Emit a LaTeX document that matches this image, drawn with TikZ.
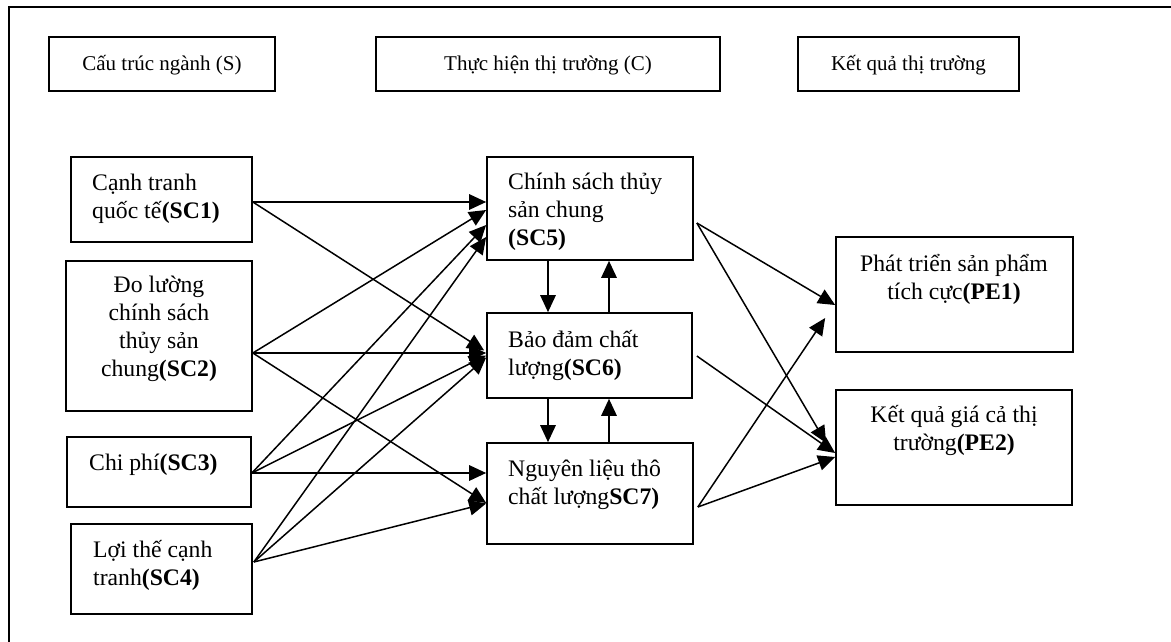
\documentclass[tikz,border=0pt]{standalone}
\usepackage{fontspec}
\setmainfont{Liberation Serif}
\usetikzlibrary{arrows.meta,calc}
\begin{document}
\begin{tikzpicture}[x=1pt,y=-1pt,
  box/.style={draw,line width=1.7pt,inner sep=0pt},
  bodytxt/.style={inner sep=0pt,font=\fontsize{23.7}{28}\selectfont},
  headtxt/.style={inner sep=0pt,font=\fontsize{21}{26}\selectfont},
  arr/.style={line width=1.5pt,-{Triangle[length=17pt,width=15.5pt]}}]
\clip (0,0) rectangle (1171,642);
% outer frame (runs off the right and bottom edges)
\draw[line width=2pt] (8.5,7.5) rectangle (1200,700);
% header boxes
\node[box,minimum width=226pt,minimum height=54pt] (h1) at (162,64) {};
\node[box,minimum width=344pt,minimum height=54pt] (h2) at (548,64) {};
\node[box,minimum width=221pt,minimum height=54pt] (h3) at (908.5,64) {};
\node[headtxt,anchor=base] (h1t) at ($(h1.center)+(0,7)$) {Cấu trúc ngành (S)};
\node[headtxt,anchor=base] (h2t) at ($(h2.center)+(0,7)$) {Thực hiện thị trường (C)};
\node[headtxt,anchor=base] (h3t) at ($(h3.center)+(0,7)$) {Kết quả thị trường};
% left column
\node[box,minimum width=181pt,minimum height=85pt] (sc1) at (161.5,199.5) {};
\node[box,minimum width=186pt,minimum height=150pt] (sc2) at (159,336) {};
\node[box,minimum width=184pt,minimum height=70pt] (sc3) at (159,472) {};
\node[box,minimum width=181pt,minimum height=90pt] (sc4) at (161.5,569) {};
% middle column
\node[box,minimum width=206pt,minimum height=103pt] (sc5) at (590,208.5) {};
\node[box,minimum width=205pt,minimum height=85pt] (sc6) at (589.5,355.5) {};
\node[box,minimum width=206pt,minimum height=101pt] (sc7) at (590,493.5) {};
% right column
\node[box,minimum width=237pt,minimum height=115pt] (pe1) at (954.5,294.5) {};
\node[box,minimum width=236pt,minimum height=115pt] (pe2) at (954,447.5) {};
% texts (base anchor = baseline of the last line)
\node[bodytxt,anchor=base west,align=left] (sc1t) at (92,218) {Cạnh tranh\\quốc tế\textbf{(SC1)}};
\node[bodytxt,anchor=base,align=center] (sc2t) at (159,376) {Đo lường\\chính sách\\thủy sản\\chung\textbf{(SC2)}};
\node[bodytxt,anchor=base west,align=left] (sc3t) at (89,470) {Chi phí\textbf{(SC3)}};
\node[bodytxt,anchor=base west,align=left] (sc4t) at (93,585) {Lợi thế cạnh\\tranh\textbf{(SC4)}};
\node[bodytxt,anchor=base west,align=left] (sc5t) at (508,245) {Chính sách thủy\\sản chung\\\textbf{(SC5)}};
\node[bodytxt,anchor=base west,align=left] (sc6t) at (508,375) {Bảo đảm chất\\lượng\textbf{(SC6)}};
\node[bodytxt,anchor=base west,align=left] (sc7t) at (508,504) {Nguyên liệu thô\\chất lượng\textbf{SC7)}};
\node[bodytxt,anchor=base,align=center] (pe1t) at (954,299) {Phát triển sản phẩm\\tích cực\textbf{(PE1)}};
\node[bodytxt,anchor=base,align=center] (pe2t) at (954,450) {Kết quả giá cả thị\\trường\textbf{(PE2)}};
% connectors from S to C
\draw[arr] ($(sc1.east)+(0,2.5)$) -- ($(sc5.west)+(0,-6.5)$);
\draw[arr] ($(sc1.east)+(0,2.5)$) -- ($(sc6.west)+(-2,-5)$);
\draw[arr] ($(sc2.east)+(0,17)$) -- ($(sc5.west)+(0,1.5)$);
\draw[arr] ($(sc2.east)+(0,17)$) -- ($(sc6.west)+(0,-2.5)$);
\draw[arr] ($(sc2.east)+(0,17)$) -- ($(sc7.west)+(0,9.5)$);
\draw[arr] ($(sc3.east)+(0,1)$) -- ($(sc5.west)+(0,16.5)$);
\draw[arr] ($(sc3.east)+(0,1)$) -- ($(sc6.west)+(0,0)$);
\draw[arr] ($(sc3.east)+(0,1)$) -- ($(sc7.west)+(0,-20.5)$);
\draw[arr] ($(sc4.east)+(1,-7)$) -- ($(sc5.west)+(0,28.5)$);
\draw[arr] ($(sc4.east)+(1,-7)$) -- ($(sc6.west)+(0,2)$);
\draw[arr] ($(sc4.east)+(1,-7)$) -- ($(sc7.west)+(0,10)$);
% between C boxes
\draw[arr] ($(sc5.south)+(-42,0)$) -- ($(sc6.north)+(-41.5,0)$);
\draw[arr] ($(sc6.north)+(19.5,0)$) -- ($(sc5.south)+(19,0)$);
\draw[arr] ($(sc6.south)+(-41.5,0)$) -- ($(sc7.north)+(-42,0)$);
\draw[arr] ($(sc7.north)+(19,0)$) -- ($(sc6.south)+(19.5,0)$);
% from C to P
\draw[arr] ($(sc5.east)+(3,14.5)$) -- ($(pe1.west)+(0,10.5)$);
\draw[arr] ($(sc5.east)+(3,14.5)$) -- ($(pe2.west)+(-9,-4.5)$);
\draw[arr] ($(sc6.east)+(4,0.5)$) -- ($(pe2.west)+(0,5.5)$);
\draw[arr] ($(sc7.east)+(4,13.5)$) -- ($(pe1.west)+(-10,23.5)$);
\draw[arr] ($(sc7.east)+(4,13.5)$) -- ($(pe2.west)+(0,9.5)$);
\end{tikzpicture}
\end{document}
